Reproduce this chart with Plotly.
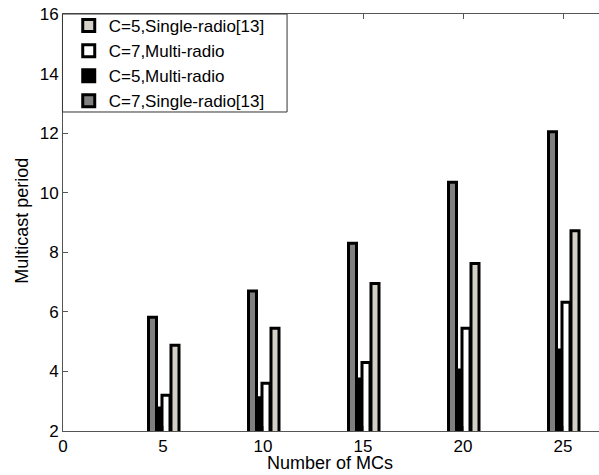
import plotly.graph_objects as go

groups = [5, 10, 15, 20, 25]
c7_single = [5.82, 6.7, 8.3, 10.35, 12.05]
c5_multi = [2.77, 3.12, 3.75, 4.05, 4.72]
c7_multi = [3.2, 3.6, 4.3, 5.45, 6.32]
c5_single = [4.88, 5.45, 6.95, 7.62, 8.72]

series = [
    ("C=7,Single-radio[13]", c7_single, "#808080", -0.725, 4),
    ("C=5,Multi-radio", c5_multi, "#000000", -0.275, 3),
    ("C=7,Multi-radio", c7_multi, "#ffffff", -0.05, 2),
    ("C=5,Single-radio[13]", c5_single, "#d4d0c8", 0.4, 1),
]

fig = go.Figure()
for name, vals, color, off, rank in series:
    fig.add_trace(go.Bar(
        x=groups, y=vals, name=name, width=0.4, offset=off,
        marker=dict(color=color, line=dict(color="black", width=3)),
        legendrank=rank,
    ))

fam = "Liberation Sans, Arial, sans-serif"
fig.update_layout(
    width=599, height=475,
    margin=dict(l=63, r=0, t=14, b=44),
    paper_bgcolor="white", plot_bgcolor="white",
    barmode="overlay",
    font=dict(family=fam, size=17, color="black"),
    showlegend=True,
    legend=dict(x=0.0107, y=1.0144, xanchor="left", yanchor="top",
                borderwidth=0, bgcolor="rgba(0,0,0,0)",
                font=dict(size=17), tracegroupgap=0, itemwidth=30),
    xaxis=dict(range=[0, 26.8], tickvals=[0, 5, 10, 15, 20, 25],
               ticks="inside", ticklen=5, tickcolor="#555",
               showline=True, linecolor="#555", linewidth=1, mirror="ticks",
               showgrid=False, zeroline=False, automargin=False,
               ticklabeloverflow="allow", tickfont=dict(size=17)),
    yaxis=dict(range=[2, 16], tickvals=[2, 4, 6, 8, 10, 12, 14, 16],
               ticks="inside", ticklen=5, tickcolor="#555",
               showline=True, linecolor="#555", linewidth=1,
               showgrid=False, zeroline=False, automargin=False,
               ticklabeloverflow="allow", tickfont=dict(size=17)),
    shapes=[
        dict(type="rect", xref="paper", yref="paper",
             x0=-0.001, x1=0.418, y0=0.765, y1=1.0,
             line=dict(color="#333", width=1), fillcolor="white",
             layer="above"),
    ],
    annotations=[
        dict(text="Number of MCs", xref="paper", yref="paper",
             x=0.498, y=-0.077, xanchor="center", yanchor="middle",
             showarrow=False, font=dict(size=18)),
        dict(text="Multicast period", xref="paper", yref="paper",
             x=-0.0765, y=0.504, xanchor="center", yanchor="middle",
             textangle=-90, showarrow=False, font=dict(size=18)),
    ],
)

fig.write_html("out.html", config={"displayModeBar": False},
               post_script="document.body.style.margin='0';")
